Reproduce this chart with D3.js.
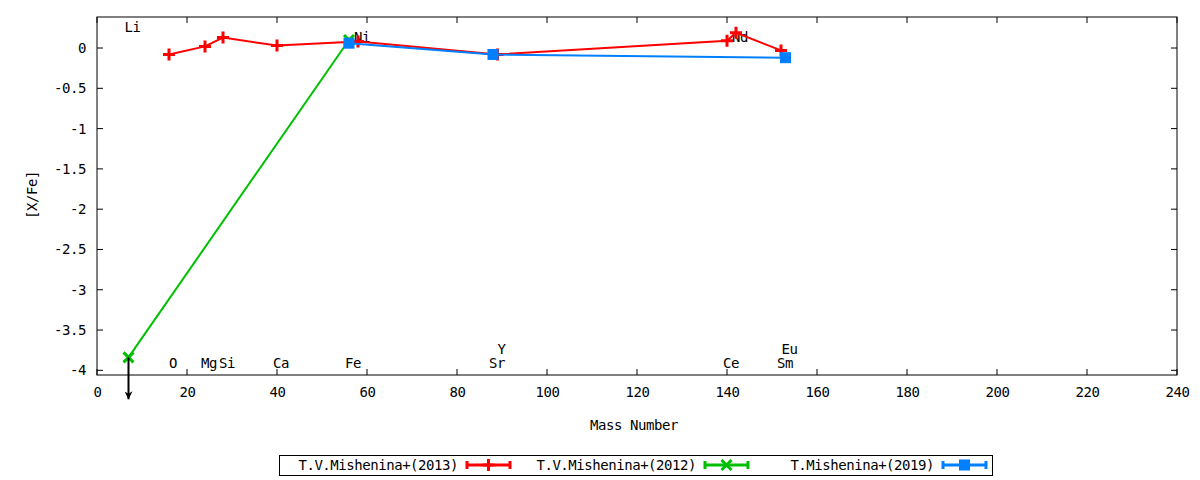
<!DOCTYPE html>
<html lang="en">
<head>
  <meta charset="UTF-8" />
  <title>[X/Fe] vs Mass Number</title>
  <script src="https://d3js.org/d3.v7.min.js"></script>
  <style>
    body {
      margin: 0;
      padding: 0;
      background-color: #fff;
    }
    svg {
      display: block;
      font-family: "DejaVu Sans Mono", monospace;
      font-size: 14px;
    }
    svg text {
      letter-spacing: -0.45px;
    }
  </style>
</head>
<body>
  <svg width="1200" height="480"></svg>

  <script>
    // series: mass number and [X/Fe]
    const mass2013 = [16, 24, 28, 40, 58, 89, 140, 142, 152];
    const val2013  = [-0.08, 0.02, 0.13, 0.03, 0.08, -0.08, 0.09, 0.19, -0.03];

    const mass2012 = [7, 56];
    const val2012  = [-3.84, 0.1];

    const mass2019 = [56, 88, 153];
    const val2019  = [0.06, -0.08, -0.12];

    const seriesNames = ["T.V.Mishenina+(2013)", "T.V.Mishenina+(2012)", "T.Mishenina+(2019)"];

    // element labels (mass, y position in data units)
    const elemNames = ["Li", "Ni", "Nd", "O", "Mg", "Si", "Ca", "Fe", "Y", "Sr", "Ce", "Sm", "Eu"];
    const elemMass  = [7, 58, 142, 16, 24, 28, 40, 56, 89, 88, 140, 152, 153];
    const elemY     = [0.26, 0.14, 0.14, -3.91, -3.91, -3.91, -3.91, -3.91, -3.74, -3.91, -3.91, -3.91, -3.74];

    // upper limit arrow (Li)
    const limitMass = [7];
    const limitFrom = [-3.84];
    const limitTo   = [-4.36];

    const xTicks = d3.range(0, 241, 20);
    const yTicks = [0, -0.5, -1, -1.5, -2, -2.5, -3, -3.5, -4];

    const svg = d3.select("svg");
    const plotL = 97, plotR = 1177, plotT = 17, plotB = 375;

    const x = d3.scaleLinear().domain([0, 240]).range([plotL, plotR]);
    const y = d3.scaleLinear().domain([-4.058, 0.385]).range([plotB, plotT]);

    const tickLen = 6;

    // x ticks (bottom + mirrored top)
    const xAxisB = d3.axisBottom(x).tickValues(xTicks).tickSize(0).tickPadding(12).tickFormat(d3.format("d"));
    const gx = svg.append("g").attr("transform", `translate(0,${plotB})`).call(xAxisB);
    gx.select(".domain").remove();
    gx.selectAll("text").attr("font-family", "DejaVu Sans Mono").attr("font-size", 14).attr("fill", "#000");

    const yAxisL = d3.axisLeft(y).tickValues(yTicks).tickSize(0).tickPadding(11).tickFormat(d => d);
    const gy = svg.append("g").attr("transform", `translate(${plotL},0)`).call(yAxisL);
    gy.select(".domain").remove();
    gy.selectAll("text").attr("font-family", "DejaVu Sans Mono").attr("font-size", 14).attr("fill", "#000");

    const ticks = svg.append("g").attr("stroke", "#000").attr("stroke-width", 1);
    xTicks.forEach(t => {
      ticks.append("line").attr("x1", x(t)).attr("x2", x(t)).attr("y1", plotB).attr("y2", plotB - tickLen);
      ticks.append("line").attr("x1", x(t)).attr("x2", x(t)).attr("y1", plotT).attr("y2", plotT + tickLen);
    });
    yTicks.forEach(t => {
      ticks.append("line").attr("x1", plotL).attr("x2", plotL + tickLen).attr("y1", y(t)).attr("y2", y(t));
      ticks.append("line").attr("x1", plotR).attr("x2", plotR - tickLen).attr("y1", y(t)).attr("y2", y(t));
    });

    svg.append("rect")
      .attr("x", plotL).attr("y", plotT)
      .attr("width", plotR - plotL).attr("height", plotB - plotT)
      .attr("fill", "none").attr("stroke", "#000").attr("stroke-width", 1);

    // axis titles
    svg.append("text")
      .attr("x", 634).attr("y", 430)
      .attr("text-anchor", "middle")
      .text("Mass Number");
    svg.append("text")
      .attr("transform", "translate(37,195) rotate(-90)")
      .attr("text-anchor", "middle")
      .text("[X/Fe]");

    // element labels
    svg.append("g").selectAll("text")
      .data(elemNames)
      .enter().append("text")
      .attr("x", (d, i) => x(elemMass[i]) + 4)
      .attr("y", (d, i) => y(elemY[i]) + 5)
      .attr("text-anchor", "middle")
      .text(d => d);

    // markers
    function plus(g, cx, cy, col) {
      g.append("path").attr("d", `M${cx - 6},${cy}H${cx + 6}M${cx},${cy - 6}V${cy + 6}`)
        .attr("stroke", col).attr("stroke-width", 3).attr("fill", "none");
    }
    function cross(g, cx, cy, col) {
      g.append("path").attr("d", `M${cx - 5},${cy - 5}L${cx + 5},${cy + 5}M${cx - 5},${cy + 5}L${cx + 5},${cy - 5}`)
        .attr("stroke", col).attr("stroke-width", 3).attr("fill", "none");
    }
    function square(g, cx, cy, col) {
      g.append("rect").attr("x", cx - 5.5).attr("y", cy - 5.5).attr("width", 11).attr("height", 11).attr("fill", col);
    }

    const series = [
      { xs: mass2013, ys: val2013, color: "#ff0000", mark: plus },
      { xs: mass2012, ys: val2012, color: "#00c000", mark: cross },
      { xs: mass2019, ys: val2019, color: "#0080ff", mark: square }
    ];

    const line = d3.line().x(d => x(d[0])).y(d => y(d[1]));

    series.forEach(s => {
      const pts = s.xs.map((m, i) => [m, s.ys[i]]);
      const g = svg.append("g");
      g.append("path").attr("d", line(pts))
        .attr("fill", "none").attr("stroke", s.color).attr("stroke-width", 2);
      pts.forEach(p => s.mark(g, x(p[0]), y(p[1]), s.color));
    });

    // upper limit arrow
    svg.append("defs").append("marker")
      .attr("id", "arrowhead")
      .attr("viewBox", "0 0 10 10")
      .attr("refX", 10).attr("refY", 5)
      .attr("markerWidth", 4).attr("markerHeight", 4)
      .attr("orient", "auto")
      .append("path").attr("d", "M0,0L10,5L0,10L3,5Z").attr("fill", "#000");

    limitMass.forEach((m, i) => {
      svg.append("line")
        .attr("x1", x(m)).attr("x2", x(m))
        .attr("y1", y(limitFrom[i])).attr("y2", y(limitTo[i]))
        .attr("stroke", "#000").attr("stroke-width", 2)
        .attr("marker-end", "url(#arrowhead)");
    });

    // legend
    const legend = svg.append("g");
    legend.append("rect")
      .attr("x", 279.5).attr("y", 455.5).attr("width", 713).attr("height", 20)
      .attr("fill", "none").attr("stroke", "#000");

    const legendTextEnd = [458, 696, 934];
    seriesNames.forEach((name, i) => {
      const s = series[i];
      const tx = legendTextEnd[i];
      legend.append("text")
        .attr("x", tx).attr("y", 470)
        .attr("text-anchor", "end")
        .text(name);
      const x0 = tx + 9, x1 = tx + 52, cy = 465;
      legend.append("path")
        .attr("d", `M${x0},${cy}H${x1}M${x0},${cy - 4}V${cy + 4}M${x1},${cy - 4}V${cy + 4}`)
        .attr("stroke", s.color).attr("stroke-width", 3).attr("fill", "none");
      s.mark(legend, (x0 + x1) / 2, cy, s.color);
    });
  </script>
</body>
</html>
